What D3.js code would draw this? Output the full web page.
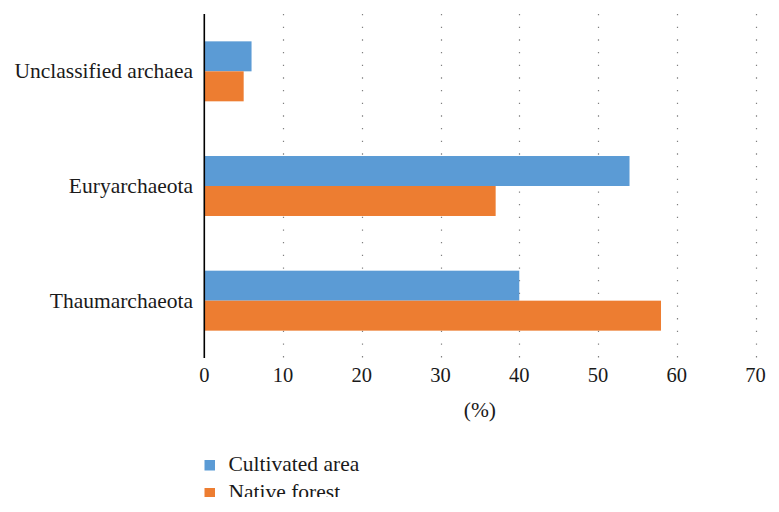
<!DOCTYPE html>
<html>
<head>
<meta charset="utf-8">
<script src="https://cdn.jsdelivr.net/npm/d3@7"></script>
<style>
  html, body { margin: 0; padding: 0; background: #fff; }
  svg { display: block; }
  text { font-family: "Liberation Serif", "Times New Roman", serif; fill: #1a1a1a; }
</style>
</head>
<body>
<svg id="chart" width="779" height="497"></svg>
<script>
const categories = ["Unclassified archaea", "Euryarchaeota", "Thaumarchaeota"];
const seriesNames = ["Cultivated area", "Native forest"];
const cultivated = [6, 54, 40];
const nativeForest = [5, 37, 58];
const xTicks = [0, 10, 20, 30, 40, 50, 60, 70];
const xLabel = "(%)";
const colors = ["#5B9BD5", "#ED7D31"];

const series = [cultivated, nativeForest];

const svg = d3.select("#chart");
svg.append("rect").attr("width", 779).attr("height", 497).attr("fill", "#fff");

const x = d3.scaleLinear().domain([0, 70]).range([204.3, 755.5]);
const y = d3.scaleBand().domain(categories).range([14, 358]).paddingInner(0.477).paddingOuter(0.2385);
const ySub = d3.scaleBand().domain(seriesNames).range([0, y.bandwidth()]);

// dotted gridlines
svg.append("g").selectAll("line")
  .data(xTicks.filter(d => d > 0))
  .join("line")
  .attr("x1", d => Math.round(x(d)) + 0.5)
  .attr("x2", d => Math.round(x(d)) + 0.5)
  .attr("y1", 14).attr("y2", 358)
  .attr("stroke", "#808080")
  .attr("stroke-width", 1.2)
  .attr("stroke-dasharray", "1.3,11.37");

// bars
seriesNames.forEach((name, si) => {
  svg.append("g").selectAll("rect")
    .data(categories.map((c, i) => ({ c, v: series[si][i] })))
    .join("rect")
    .attr("x", x(0))
    .attr("y", d => y(d.c) + ySub(name))
    .attr("width", d => x(d.v) - x(0))
    .attr("height", ySub.bandwidth())
    .attr("fill", colors[si]);
});

// y axis line
svg.append("line")
  .attr("x1", x(0)).attr("x2", x(0))
  .attr("y1", 14).attr("y2", 358)
  .attr("stroke", "#000").attr("stroke-width", 1.6);

// category labels
svg.append("g").selectAll("text")
  .data(categories)
  .join("text")
  .attr("x", 193)
  .attr("y", d => y(d) + y.bandwidth() / 2 + 7)
  .attr("text-anchor", "end")
  .attr("font-size", "21.5px")
  .text(d => d);

// x tick labels
svg.append("g").selectAll("text")
  .data(xTicks)
  .join("text")
  .attr("x", d => x(d))
  .attr("y", 382)
  .attr("text-anchor", "middle")
  .attr("font-size", "20.5px")
  .text(d => d);

// x axis title
svg.append("text")
  .attr("x", x(35)).attr("y", 417)
  .attr("text-anchor", "middle")
  .attr("font-size", "21.5px")
  .text(xLabel);

// legend
const legend = svg.append("g").selectAll("g")
  .data(seriesNames)
  .join("g")
  .attr("transform", (d, i) => `translate(204.5, ${460 + i * 28})`);
legend.append("rect")
  .attr("width", 10.5).attr("height", 10.5)
  .attr("fill", (d, i) => colors[i]);
legend.append("text")
  .attr("x", 24).attr("y", 11)
  .attr("font-size", "21.5px")
  .text(d => d);
</script>
</body>
</html>
